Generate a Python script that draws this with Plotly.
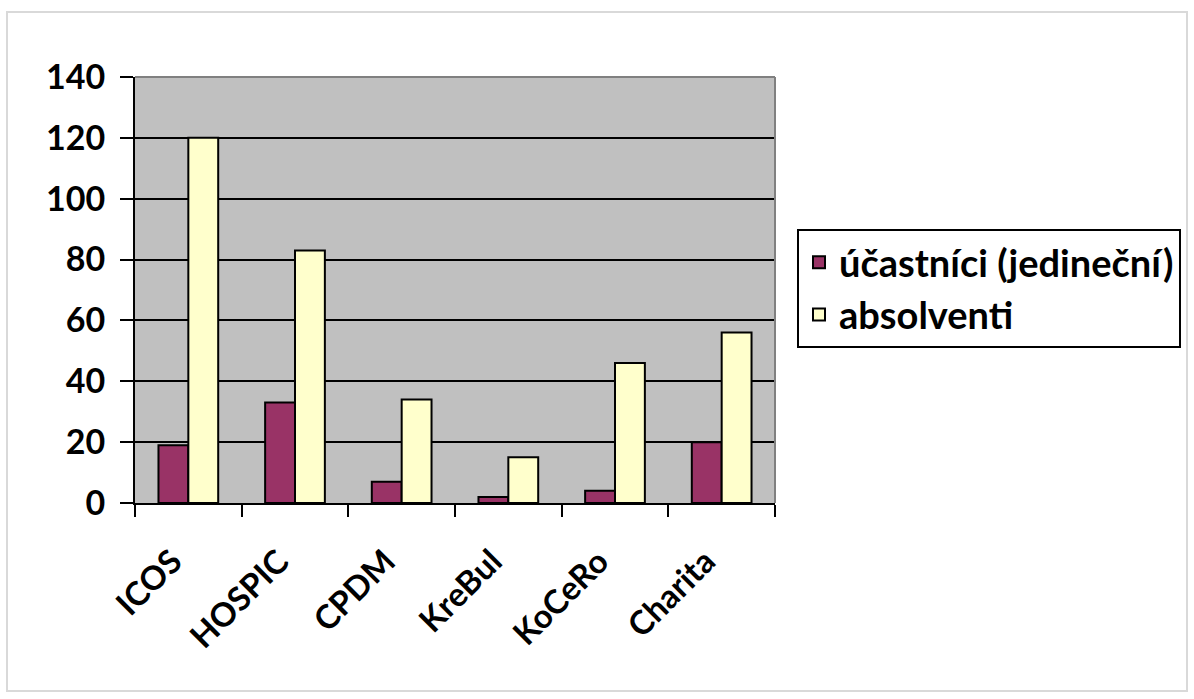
import plotly.graph_objects as go

categories = ["ICOS", "HOSPIC", "CPDM", "KreBul", "KoCeRo", "Charita"]
ucastnici = [19, 33, 7, 2, 4, 20]
absolventi = [120, 83, 34, 15, 46, 56]
series_names = ["účastníci (jedineční)", "absolventi"]
y_ticks = [0, 20, 40, 60, 80, 100, 120, 140]

W, H = 1194, 699
L, R, T, B = 135, 775, 77, 503

def px(x):
    return (x - L) / (R - L)

def py(y):
    return (B - y) / (B - T)

fig = go.Figure()
fig.add_trace(go.Bar(x=categories, y=ucastnici, name=series_names[0], legendgroup="a",
                     marker=dict(color="#993366", line=dict(color="black", width=2))))
fig.add_trace(go.Bar(x=categories, y=absolventi, name=series_names[1], legendgroup="b",
                     marker=dict(color="#FFFFCC", line=dict(color="black", width=2))))

font_family = "Lato, 'Open Sans', 'Liberation Sans', sans-serif"

fig.update_layout(
    width=W, height=H,
    margin=dict(l=L, r=W - R, t=T, b=H - B, autoexpand=False),
    paper_bgcolor="white",
    plot_bgcolor="#C0C0C0",
    barmode="group",
    bargap=0.44,
    bargroupgap=0,
    font=dict(family=font_family, color="black"),
    showlegend=True,
    legend=dict(
        x=px(797), y=py(229), xanchor="left", yanchor="top",
        bgcolor="white", bordercolor="black", borderwidth=2,
        font=dict(size=38, family=font_family, weight="bold"),
        tracegroupgap=0,
        itemsizing="constant",
    ),
    xaxis=dict(
        type="category",
        tickangle=-45,
        tickfont=dict(size=33, family=font_family, weight="bold"),
        ticks="outside", tickson="boundaries", ticklen=12, tickwidth=2, tickcolor="black",
        ticklabelstandoff=24, ticklabelshift=-16,
        showline=True, linecolor="black", linewidth=2,
        showgrid=False,
    ),
    yaxis=dict(
        range=[0, 140],
        tickvals=y_ticks,
        tickfont=dict(size=34, family=font_family, weight="bold"),
        ticks="outside", ticklen=13, tickwidth=2, tickcolor="black",
        ticklabelstandoff=8,
        showline=True, linecolor="black", linewidth=2,
        showgrid=True, gridcolor="black", gridwidth=2,
        zeroline=False,
    ),
    shapes=[
        dict(type="rect", xref="paper", yref="paper",
             x0=px(7), x1=px(1187), y0=py(691), y1=py(12),
             line=dict(color="#D9D9D9", width=2), fillcolor="rgba(0,0,0,0)", layer="below"),
        dict(type="line", xref="paper", yref="paper",
             x0=0, x1=1, y0=1, y1=1, line=dict(color="#808080", width=2)),
        dict(type="line", xref="paper", yref="paper",
             x0=1, x1=1, y0=0, y1=1, line=dict(color="#808080", width=2)),
    ],
)

fig.write_html("out.html", config={"displayModeBar": False},
               post_script="document.body.style.margin='0';document.body.style.overflow='hidden';")
